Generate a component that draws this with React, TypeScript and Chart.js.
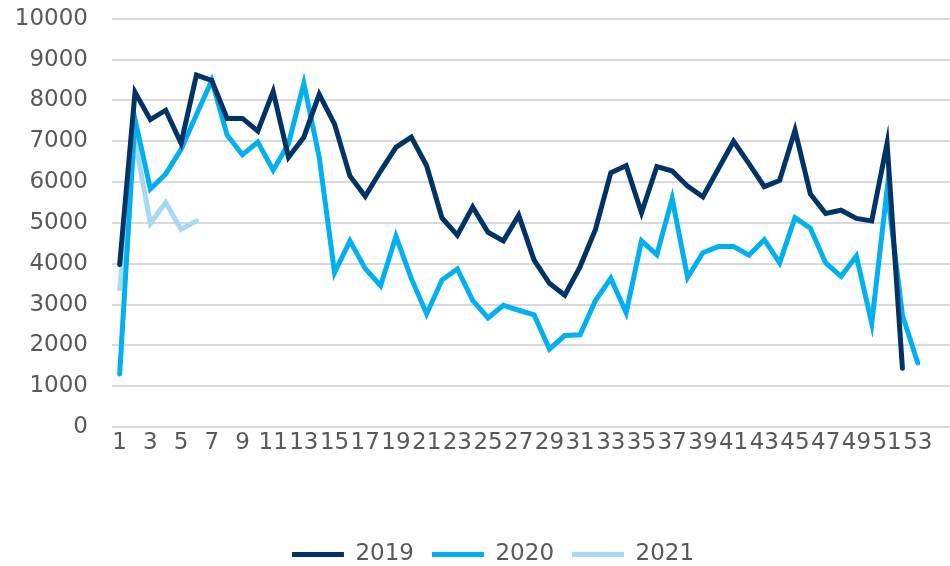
import React, { useEffect, useRef } from 'react';
import { Chart, registerables } from 'chart.js';

Chart.register(...registerables);

const weeks = [
  1, 2, 3, 4, 5, 6, 7, 8, 9, 10, 11, 12, 13, 14, 15, 16, 17, 18, 19, 20,
  21, 22, 23, 24, 25, 26, 27, 28, 29, 30, 31, 32, 33, 34, 35, 36, 37, 38, 39, 40,
  41, 42, 43, 44, 45, 46, 47, 48, 49, 50, 51, 52, 53,
];

const tickWeeks = [1, 3, 5, 7, 9, 11, 13, 15, 17, 19, 21, 23, 25, 27, 29, 31, 33, 35, 37, 39, 41, 43, 45, 47, 49, 51, 53];

const values2019 = [
  3980, 8200, 7530, 7760, 6950, 8620, 8490, 7560, 7560, 7250,
  8220, 6610, 7100, 8150, 7420, 6150, 5650, 6270, 6850, 7100,
  6400, 5120, 4700, 5390, 4770, 4560, 5190, 4090, 3520, 3230,
  3930, 4840, 6230, 6400, 5250, 6380, 6270, 5900, 5640, 6320,
  7000, 6450, 5890, 6040, 7270, 5710, 5230, 5310, 5110, 5050,
  6950, 1440,
];

const values2020 = [
  1300, 7540, 5830, 6200, 6800, 7650, 8490, 7150, 6670, 6980,
  6290, 6940, 8420, 6610, 3780, 4560, 3880, 3460, 4670, 3640,
  2770, 3600, 3870, 3100, 2670, 2980, 2860, 2750, 1910, 2240,
  2260, 3100, 3640, 2800, 4560, 4220, 5600, 3660, 4270, 4420,
  4420, 4210, 4590, 4020, 5130, 4870, 4020, 3690, 4190, 2540,
  5820, 2740, 1570,
];

const values2021 = [3390, 7020, 4990, 5500, 4840, 5050];

const seriesNames = ['2019', '2020', '2021'];
const seriesColors = ['#003366', '#00B0F0', '#A6DAF3'];
const seriesValues = [values2019, values2020, values2021];

const yMin = 0;
const yMax = 10000;
const yStep = 1000;

const FONT = 'DejaVu Sans';
const TEXT = '#595959';

const legendShift = {
  id: 'legendShift',
  afterLayout(chart: any) {
    if (chart.legend) {
      chart.legend.left += 18;
      chart.legend.right += 18;
    }
  },
};

export default function App() {
  const ref = useRef<HTMLCanvasElement | null>(null);

  useEffect(() => {
    document.body.style.margin = '0';
    const canvas = ref.current;
    if (!canvas) return;
    const chart = new Chart(canvas, {
      type: 'line',
      data: {
        datasets: seriesNames.map((name, i) => ({
          label: name,
          data: seriesValues[i].map((v, j) => ({ x: weeks[j], y: v })),
          borderColor: seriesColors[i],
          backgroundColor: seriesColors[i],
          borderWidth: 5,
          borderCapStyle: 'round',
          pointRadius: 0,
          pointHoverRadius: 0,
          tension: 0,
          fill: false,
        })),
      },
      options: {
        responsive: false,
        animation: false,
        layout: { padding: { top: 0, left: 0, right: 0, bottom: 0 } },
        plugins: {
          tooltip: { enabled: false },
          legend: {
            position: 'bottom',
            labels: {
              usePointStyle: true,
              pointStyle: 'line',
              pointStyleWidth: 52,
              padding: 18,
              color: TEXT,
              font: { family: FONT, size: 23 },
            },
          },
        },
        scales: {
          x: {
            type: 'linear',
            min: 0.5,
            max: 55.1,
            grid: { display: false, drawTicks: false },
            border: { display: false },
            afterBuildTicks: (axis: any) => {
              axis.ticks = tickWeeks.map((v) => ({ value: v }));
            },
            ticks: {
              autoSkip: false,
              maxRotation: 0,
              minRotation: 0,
              padding: 2,
              color: TEXT,
              font: { family: FONT, size: 23 },
              callback: (v: any) => String(v),
            },
            afterFit: (s: any) => {
              s.height = 98;
            },
          },
          y: {
            min: yMin,
            max: yMax,
            ticks: {
              stepSize: yStep,
              padding: 5,
              color: TEXT,
              font: { family: FONT, size: 23 },
              callback: (v: any) => String(v),
            },
            grid: {
              color: '#d9d9d9',
              lineWidth: 2,
              drawTicks: true,
              tickLength: 19,
              tickColor: 'rgba(0,0,0,0)',
            },
            border: { display: false },
            afterFit: (s: any) => {
              s.width = 112;
            },
          },
        },
      },
      plugins: [legendShift],
    } as any);
    return () => chart.destroy();
  }, []);

  return (
    <div style={{ width: 950, height: 566, overflow: 'hidden', position: 'relative', background: '#fff' }}>
      <canvas ref={ref} width={950} height={576} style={{ display: 'block' }} />
    </div>
  );
}
